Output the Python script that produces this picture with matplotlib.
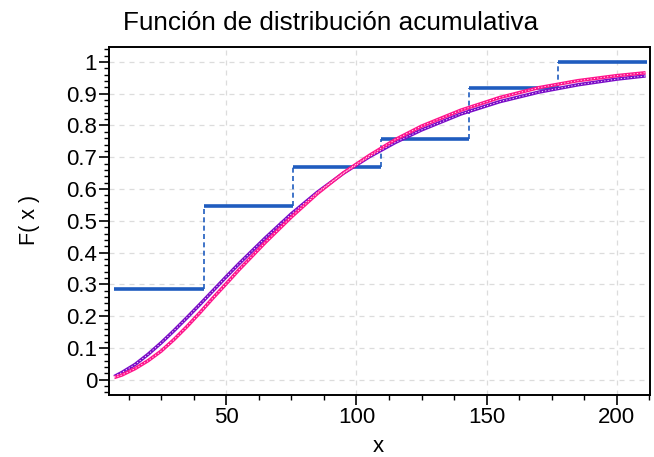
import matplotlib
matplotlib.use("Agg")
import matplotlib.pyplot as plt
from matplotlib.ticker import MultipleLocator, FixedLocator

plt.rcParams["font.family"] = ["Liberation Sans", "DejaVu Sans"]

# empirical CDF (step function)
step_edges = [7.0, 41.4, 75.6, 109.4, 143.2, 177.2, 211.5]
step_levels = [0.285, 0.548, 0.668, 0.756, 0.917, 1.0]

# fitted CDFs
x_fit = [7, 10, 15, 20, 25, 30, 35, 40, 45, 50, 55, 65, 75, 85, 95, 105, 115, 125,
         140, 155, 170, 185, 200, 211]
purple_y = [0.010, 0.023, 0.048, 0.080, 0.116, 0.155, 0.196, 0.238, 0.281, 0.324,
            0.366, 0.446, 0.522, 0.590, 0.650, 0.702, 0.747, 0.786,
            0.836, 0.875, 0.905, 0.928, 0.946, 0.956]
magenta_y = [0.007, 0.015, 0.035, 0.060, 0.090, 0.127, 0.168, 0.212, 0.258, 0.302,
             0.347, 0.432, 0.512, 0.586, 0.651, 0.706, 0.756, 0.798,
             0.848, 0.888, 0.919, 0.941, 0.957, 0.966]

y_ticks = [0, 0.1, 0.2, 0.3, 0.4, 0.5, 0.6, 0.7, 0.8, 0.9, 1]
x_ticks = [50, 100, 150, 200]

fig = plt.figure(figsize=(6.54, 4.57), dpi=100)
ax = fig.add_axes([109 / 654, 1 - 395 / 457, 541 / 654, 348 / 457])

ax.grid(True, color="#dcdcdc", linestyle=(0, (4, 4)), linewidth=0.9)
ax.set_axisbelow(True)

blue = "#1f5cbf"
ax.hlines(step_levels, step_edges[:-1], step_edges[1:], color=blue, linewidth=2.6, zorder=3)
ax.vlines(step_edges[1:-1], step_levels[:-1], step_levels[1:], color=blue,
          linewidth=1.2, linestyle=(0, (3, 2)), zorder=3)

for ys, col in [(purple_y, "#7a0cc8"), (magenta_y, "#ff148c")]:
    ax.plot(x_fit, ys, color=col, linewidth=2.5, zorder=4, solid_capstyle="butt")
    ax.plot(x_fit, ys, color="white", linewidth=0.6, linestyle=(0, (1.5, 2.5)), zorder=5)

ax.set_xlim(5, 212.7)
ax.set_ylim(-0.048, 1.047)
ax.xaxis.set_major_locator(FixedLocator(x_ticks))
ax.xaxis.set_minor_locator(MultipleLocator(12.5))
ax.yaxis.set_major_locator(FixedLocator(y_ticks))
ax.yaxis.set_minor_locator(MultipleLocator(0.02))
ax.set_yticklabels([f"{v:g}" for v in y_ticks])

ax.tick_params(which="major", direction="out", length=7, width=1.2, labelsize=16, pad=1.5,
               top=False, right=False)
ax.tick_params(which="minor", direction="out", length=3.5, width=1.0, top=False, right=False)
for s in ax.spines.values():
    s.set_linewidth(1.4)
    s.set_color("black")

fig.text(30 / 654, 1 - 220 / 457, "F( x )", rotation=90, ha="center", va="center", fontsize=15.5)
fig.text(378 / 654, 1 - 446 / 457, "x", ha="center", va="center", fontsize=16)
fig.text(123 / 654, 1 - 30.5 / 457, "Función de distribución acumulativa",
         ha="left", va="baseline", fontsize=18.8)

fig.savefig("out.png", dpi=100)
